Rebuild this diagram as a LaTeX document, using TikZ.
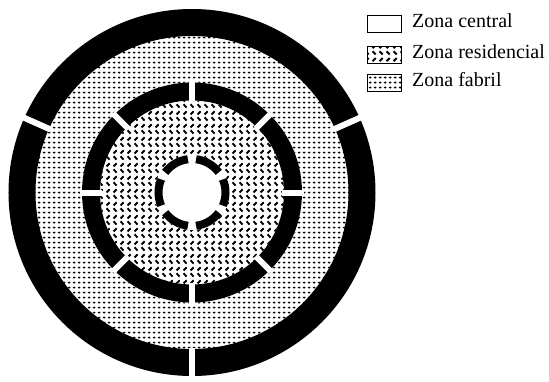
\documentclass[tikz,border=0pt]{standalone}
\usepackage{fontspec}
\setmainfont{Liberation Serif}
\usetikzlibrary{patterns}

\pgfdeclarepatternformonly{fabril}{\pgfpointorigin}{\pgfqpoint{4.6pt}{5.4pt}}{\pgfqpoint{4.6pt}{5.4pt}}{%
  \pgfpathellipse{\pgfqpoint{2.3pt}{2.7pt}}{\pgfqpoint{1.55pt}{0pt}}{\pgfqpoint{0pt}{1.15pt}}%
  \pgfusepath{fill}}

\pgfdeclarepatternformonly{residencial}{\pgfpointorigin}{\pgfqpoint{7pt}{13pt}}{\pgfqpoint{7pt}{13pt}}{%
  \pgfsetlinewidth{2.1pt}%
  \pgfpathmoveto{\pgfqpoint{1.8pt}{4.95pt}}\pgfpathlineto{\pgfqpoint{5.2pt}{1.55pt}}%
  \pgfpathmoveto{\pgfqpoint{1.8pt}{8.05pt}}\pgfpathlineto{\pgfqpoint{5.2pt}{11.45pt}}%
  \pgfusepath{stroke}}

\begin{document}
\begin{tikzpicture}[x=1pt,y=1pt]

\tikzset{
  gap/.style={draw=white, line width=6pt},
  legbox/.style={draw=black, line width=1.8pt, minimum width=34pt, minimum height=17pt, inner sep=0pt},
  leglabel/.style={font=\fontsize{20}{22}\selectfont, inner sep=0pt, anchor=mid west}
}

\useasboundingbox (-192,-188.5) rectangle (357,192.5);

% zona fabril and outer ring
\fill[pattern=fabril] (0,0) circle (157);
\draw[line width=27pt] (0,0) circle (170);

% zona residencial and middle ring
\fill[white] (0,0) circle (110);
\fill[pattern=residencial] (0,0) circle (92);
\draw[line width=18pt] (0,0) circle (101);

% zona central
\fill[white] (0,0) circle (37.5);
\foreach \a in {0,60,...,300}
  \draw[line width=8pt] (\a-23:33.5) arc[start angle=\a-23, end angle=\a+23, radius=33.5];

% openings in the rings
\foreach \a in {24,156,270}
  \draw[gap] (\a:155) -- (\a:186);
\foreach \a in {0,45,...,315}
  \draw[gap] (\a:90) -- (\a:112);

% legend
\node[legbox] (bcentral) at (192.5,168.5) {};
\node[legbox, pattern=residencial] (bresid) at (192.5,137.5) {};
\node[legbox, pattern=fabril] (bfabril) at (192.5,109.5) {};
\node[leglabel] (lcentral) at (220,167.5) {Zona central};
\node[leglabel] (lresid) at (220,136.5) {Zona residencial};
\node[leglabel] (lfabril) at (220,108.5) {Zona fabril};

\end{tikzpicture}
\end{document}
